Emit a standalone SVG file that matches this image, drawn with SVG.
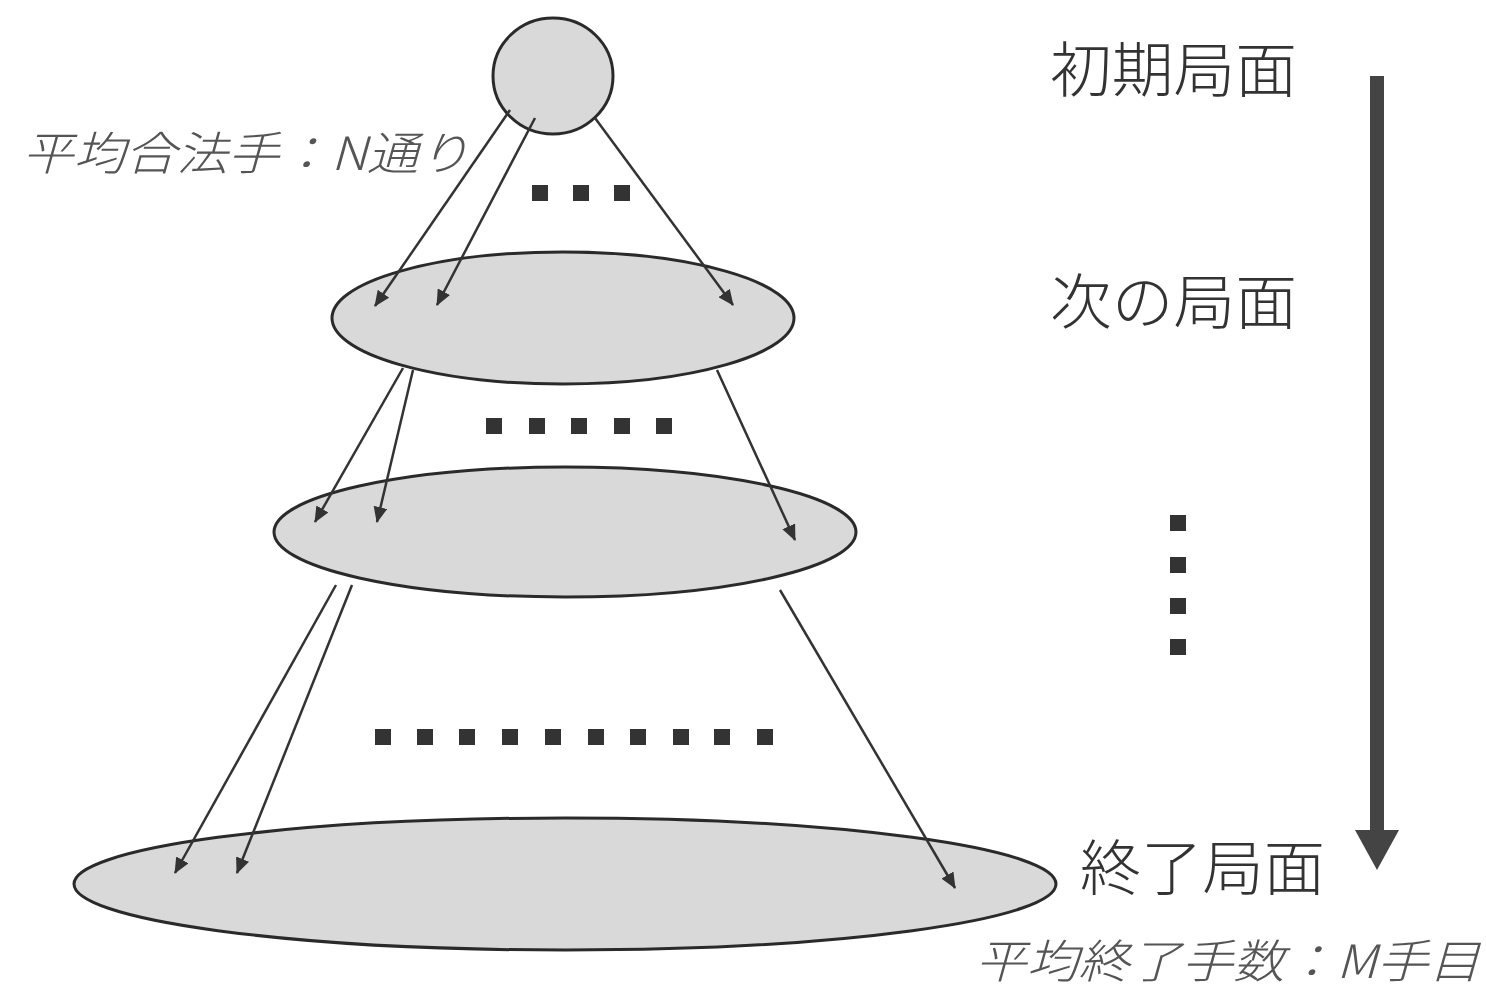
<svg xmlns="http://www.w3.org/2000/svg" width="1486" height="995" viewBox="0 0 1486 995">
<defs>
<marker id="ah" markerWidth="16" markerHeight="14" refX="15" refY="7" orient="auto" markerUnits="userSpaceOnUse" viewBox="0 0 16 14">
<path d="M0,0 L16,7 L0,14 z" fill="#333"/>
</marker>
<style>
.node{fill:#d9d9d9;stroke:#2a2a2a;stroke-width:3}
.edge{stroke:#333;stroke-width:2.5;fill:none;marker-end:url(#ah)}
.dot{fill:#333}
.lbl{font-family:"Noto Sans CJK JP","Noto Sans",sans-serif;fill:#333;font-size:60px;font-weight:300}
.it{font-family:"Noto Sans CJK JP","Noto Sans",sans-serif;fill:#555;font-size:46px;font-style:italic;font-weight:300}
</style>
</defs>
<rect width="1486" height="995" fill="#fff"/>
<g id="level3"><ellipse class="node" cx="565" cy="884" rx="491" ry="66"/></g>
<g id="level2"><ellipse class="node" cx="565" cy="532" rx="291" ry="65"/></g>
<g id="level1"><ellipse class="node" cx="563" cy="318" rx="231" ry="66"/></g>
<g id="root"><ellipse class="node" cx="553" cy="76" rx="60" ry="58"/></g>
<g id="connectors">
<line class="edge" x1="510" y1="110" x2="375" y2="306"/>
<line class="edge" x1="535" y1="118" x2="437" y2="305"/>
<line class="edge" x1="595" y1="118" x2="733" y2="305"/>
<line class="edge" x1="403" y1="368" x2="315" y2="522"/>
<line class="edge" x1="413" y1="370" x2="377" y2="522"/>
<line class="edge" x1="717" y1="370" x2="795" y2="540"/>
<line class="edge" x1="336" y1="585" x2="175" y2="873"/>
<line class="edge" x1="352" y1="585" x2="237" y2="873"/>
<line class="edge" x1="780" y1="590" x2="955" y2="888"/>
</g>
<g id="dots">
<rect class="dot" x="532" y="185" width="16" height="16"/>
<rect class="dot" x="573" y="185" width="16" height="16"/>
<rect class="dot" x="614" y="185" width="16" height="16"/>
<rect class="dot" x="486" y="418" width="16" height="16"/>
<rect class="dot" x="529" y="418" width="16" height="16"/>
<rect class="dot" x="571" y="418" width="16" height="16"/>
<rect class="dot" x="614" y="418" width="16" height="16"/>
<rect class="dot" x="656" y="418" width="16" height="16"/>
<rect class="dot" x="375" y="729" width="16" height="16"/>
<rect class="dot" x="417" y="729" width="16" height="16"/>
<rect class="dot" x="459" y="729" width="16" height="16"/>
<rect class="dot" x="502" y="729" width="16" height="16"/>
<rect class="dot" x="545" y="729" width="16" height="16"/>
<rect class="dot" x="588" y="729" width="16" height="16"/>
<rect class="dot" x="630" y="729" width="16" height="16"/>
<rect class="dot" x="673" y="729" width="16" height="16"/>
<rect class="dot" x="714" y="729" width="16" height="16"/>
<rect class="dot" x="757" y="729" width="16" height="16"/>
<rect class="dot" x="1170" y="515" width="16" height="16"/>
<rect class="dot" x="1170" y="557" width="16" height="16"/>
<rect class="dot" x="1170" y="598" width="16" height="16"/>
<rect class="dot" x="1170" y="639" width="16" height="16"/>
</g>
<g id="timeline">
<rect x="1370" y="76" width="14" height="758" fill="#444"/>
<path d="M1355,830 L1399,830 L1377,870 z" fill="#444"/>
</g>
<g id="labels">
<text class="lbl" x="1050" y="92" textLength="247" lengthAdjust="spacingAndGlyphs">初期局面</text>
<text class="lbl" x="1050" y="324" textLength="247" lengthAdjust="spacingAndGlyphs">次の局面</text>
<text class="lbl" x="1080" y="890" textLength="245" lengthAdjust="spacingAndGlyphs">終了局面</text>
<text class="it" x="22" y="170" textLength="448" lengthAdjust="spacingAndGlyphs">平均合法手：N通り</text>
<text class="it" x="975" y="978" textLength="505" lengthAdjust="spacingAndGlyphs">平均終了手数：M手目</text>
</g>
</svg>
